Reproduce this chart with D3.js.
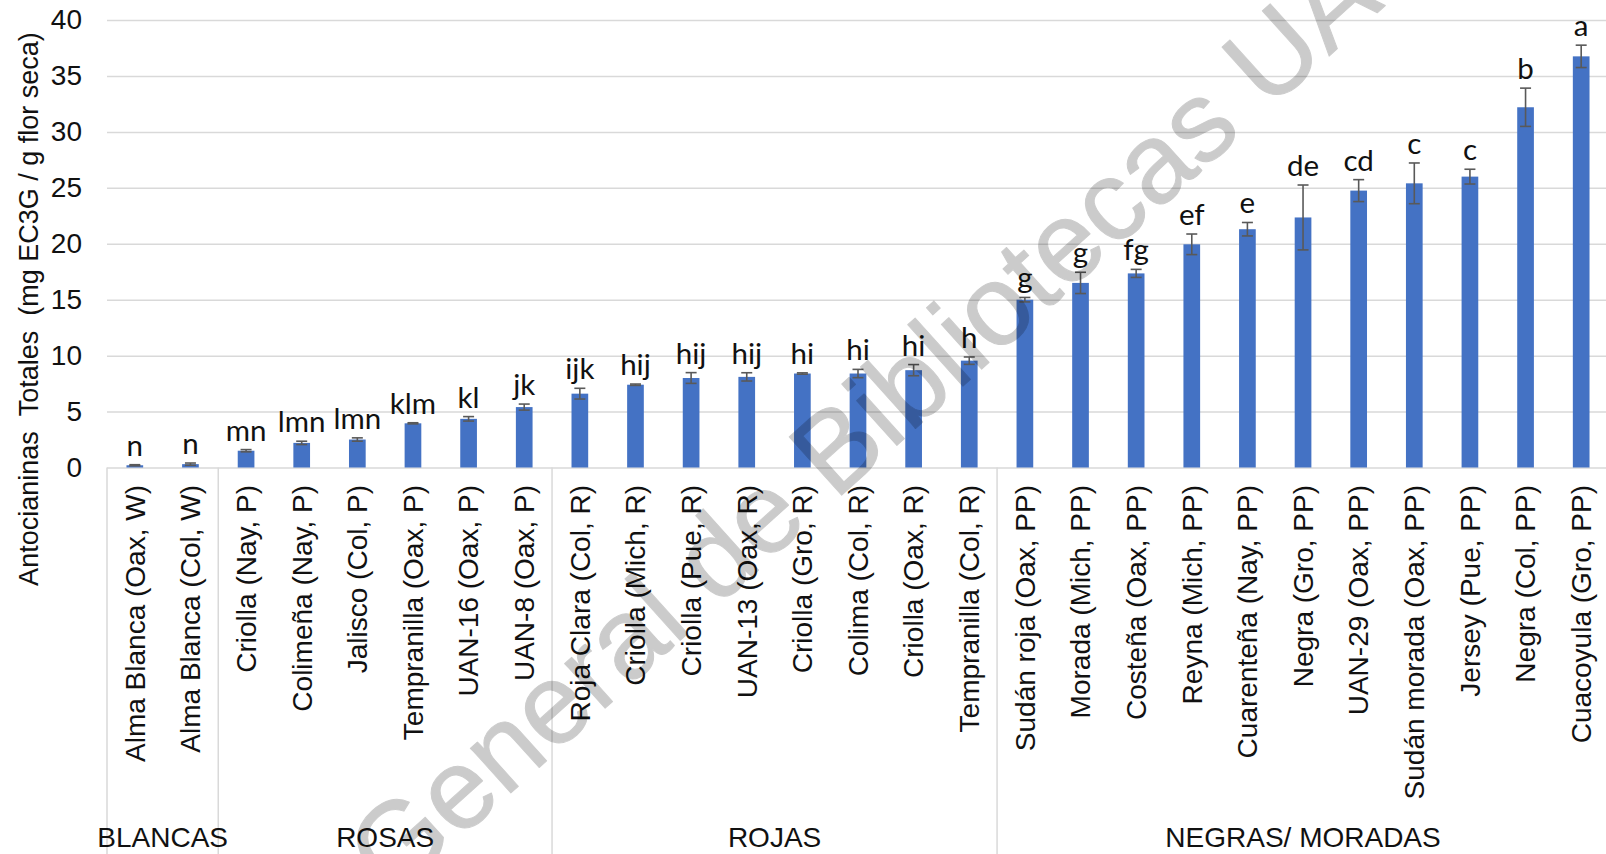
<!DOCTYPE html>
<html>
<head>
<meta charset="utf-8">
<script src="https://cdn.jsdelivr.net/npm/d3@7"></script>
<style>
  html, body { margin: 0; padding: 0; background: #ffffff; overflow: hidden; }
  svg { display: block; }
</style>
</head>
<body>
<svg id="chart" width="1606" height="854"></svg>
<script>
// Varieties, in plotting order
const categories = [
  "Alma Blanca (Oax, W)", "Alma Blanca (Col, W)",
  "Criolla (Nay, P)", "Colimeña (Nay, P)", "Jalisco (Col, P)", "Tempranilla (Oax, P)", "UAN-16 (Oax, P)", "UAN-8 (Oax, P)",
  "Roja Clara (Col, R)", "Criolla (Mich, R)", "Criolla (Pue, R)", "UAN-13 (Oax, R)", "Criolla (Gro, R)", "Colima (Col, R)", "Criolla (Oax, R)", "Tempranilla (Col, R)",
  "Sudán roja (Oax, PP)", "Morada (Mich, PP)", "Costeña (Oax, PP)", "Reyna (Mich, PP)", "Cuarenteña (Nay, PP)", "Negra (Gro, PP)", "UAN-29 (Oax, PP)", "Sudán morada (Oax, PP)", "Jersey (Pue, PP)", "Negra (Col, PP)", "Cuacoyula (Gro, PP)"
];

// Colour groups and how many varieties belong to each
const groupNames = ["BLANCAS", "ROSAS", "ROJAS", "NEGRAS/ MORADAS"];
const groupSizes = [2, 6, 8, 11];

// Total anthocyanins (mg EC3G / g dry flower)
const values = [0.2, 0.3, 1.5, 2.2, 2.5, 3.95, 4.35, 5.4,
                6.6, 7.4, 8.0, 8.1, 8.4, 8.4, 8.7, 9.55,
                15.0, 16.5, 17.35, 19.95, 21.3, 22.35, 24.75, 25.4, 26.0, 32.2, 36.75];

// Standard deviation
const errors = [0.05, 0.1, 0.1, 0.15, 0.15, 0.05, 0.2, 0.27,
                0.48, 0.06, 0.48, 0.37, 0.06, 0.37, 0.5, 0.33,
                0.2, 0.95, 0.36, 0.92, 0.6, 2.9, 0.98, 1.82, 0.66, 1.71, 1.0];

// Mean separation letters
const letters = ["n", "n", "mn", "lmn", "lmn", "klm", "kl", "jk",
                 "ijk", "hij", "hij", "hij", "hi", "hi", "hi", "h",
                 "g", "g", "fg", "ef", "e", "de", "cd", "c", "c", "b", "a"];

const yTicks = [0, 5, 10, 15, 20, 25, 30, 35, 40];
const yTitle = "Antocianinas\u00a0\u00a0Totales\u00a0\u00a0(mg EC3G / g flor seca)";
const watermark = "General de Bibliotecas UAQ";

const W = 1606, H = 854;
const plotLeft = 107, plotRight = 1609, plotTop = 20, plotBottom = 467.5;
const axisFont = "'Liberation Sans', Arial, sans-serif";
const letterFont = "Lato, 'Open Sans', sans-serif";
const gridColor = "#d9d9d9";

const svg = d3.select("#chart");

const x = d3.scaleBand().domain(categories).range([plotLeft, plotRight]).padding(0);
const y = d3.scaleLinear().domain([0, 40]).range([plotBottom, plotTop]);
const barW = x.step() * 0.3;

// Value axis with gridlines across the plot
const yAxis = svg.append("g")
  .attr("transform", `translate(${plotLeft},0)`)
  .call(d3.axisLeft(y).tickValues(yTicks).tickSizeInner(-(plotRight - plotLeft)).tickSizeOuter(0).tickPadding(25));
yAxis.select(".domain").remove();
yAxis.selectAll(".tick line").attr("stroke", gridColor).attr("stroke-width", 1.5);
yAxis.selectAll(".tick text")
  .attr("font-family", axisFont).attr("font-size", 28).attr("fill", "#111");

// Vertical separators between colour groups
const bounds = [0];
groupSizes.forEach(n => bounds.push(bounds[bounds.length - 1] + n));
svg.append("g").selectAll("line")
  .data(bounds)
  .join("line")
  .attr("x1", i => plotLeft + i * x.step())
  .attr("x2", i => plotLeft + i * x.step())
  .attr("y1", plotBottom)
  .attr("y2", H)
  .attr("stroke", gridColor).attr("stroke-width", 1.5);

// Group names
svg.append("g").selectAll("text")
  .data(groupNames)
  .join("text")
  .attr("x", (d, i) => plotLeft + (bounds[i] + bounds[i + 1]) / 2 * x.step())
  .attr("y", 847)
  .attr("text-anchor", "middle")
  .attr("font-family", axisFont).attr("font-size", 28).attr("fill", "#111")
  .text(d => d);

// Category axis with rotated variety names
const xAxis = svg.append("g")
  .attr("transform", `translate(0,${plotBottom})`)
  .call(d3.axisBottom(x).tickSize(0).tickPadding(0));
xAxis.select(".domain").remove();
xAxis.selectAll(".tick text")
  .attr("transform", "rotate(-90)")
  .attr("x", -17.5)
  .attr("y", 0)
  .attr("dy", "0.35em")
  .attr("text-anchor", "end")
  .attr("font-family", axisFont).attr("font-size", 28).attr("fill", "#111");

// Bars
svg.append("g").selectAll("rect")
  .data(categories)
  .join("rect")
  .attr("x", (d) => x(d) + (x.bandwidth() - barW) / 2)
  .attr("width", barW)
  .attr("y", (d, i) => y(values[i]))
  .attr("height", (d, i) => y(0) - y(values[i]))
  .attr("fill", "#4472c4");

// Error bars
const eb = svg.append("g").attr("stroke", "#595959").attr("stroke-width", 1.6).attr("fill", "none");
categories.forEach((c, i) => {
  const cx = x(c) + x.bandwidth() / 2;
  const top = y(values[i] + errors[i]);
  const bot = y(values[i] - errors[i]);
  eb.append("line").attr("x1", cx).attr("x2", cx).attr("y1", top).attr("y2", bot);
  eb.append("line").attr("x1", cx - 5.5).attr("x2", cx + 5.5).attr("y1", top).attr("y2", top);
  eb.append("line").attr("x1", cx - 5.5).attr("x2", cx + 5.5).attr("y1", bot).attr("y2", bot);
});

// Significance letters above each bar
svg.append("g").selectAll("text")
  .data(categories)
  .join("text")
  .attr("x", d => x(d) + x.bandwidth() / 2)
  .attr("y", (d, i) => y(values[i] + errors[i]) - 9)
  .attr("text-anchor", "middle")
  .attr("font-family", letterFont).attr("font-size", 29.5).attr("fill", "#111")
  .text((d, i) => letters[i]);

// Value axis title
svg.append("text")
  .attr("transform", `translate(28.3,${(29 + 589) / 2}) rotate(-90)`)
  .attr("dy", "0.35em")
  .attr("text-anchor", "middle")
  .attr("font-family", axisFont).attr("font-size", 27).attr("fill", "#111")
  .text(yTitle);

// Library watermark (semi-transparent)
svg.append("g")
  .attr("opacity", 0.2)
  .append("text")
  .attr("transform", "translate(392,900) rotate(-42)")
  .attr("font-family", axisFont).attr("font-size", 114)
  .attr("fill", "#000")
  .attr("stroke", "#000").attr("stroke-width", 1).attr("stroke-linejoin", "round")
  .text(watermark);
</script>
</body>
</html>
